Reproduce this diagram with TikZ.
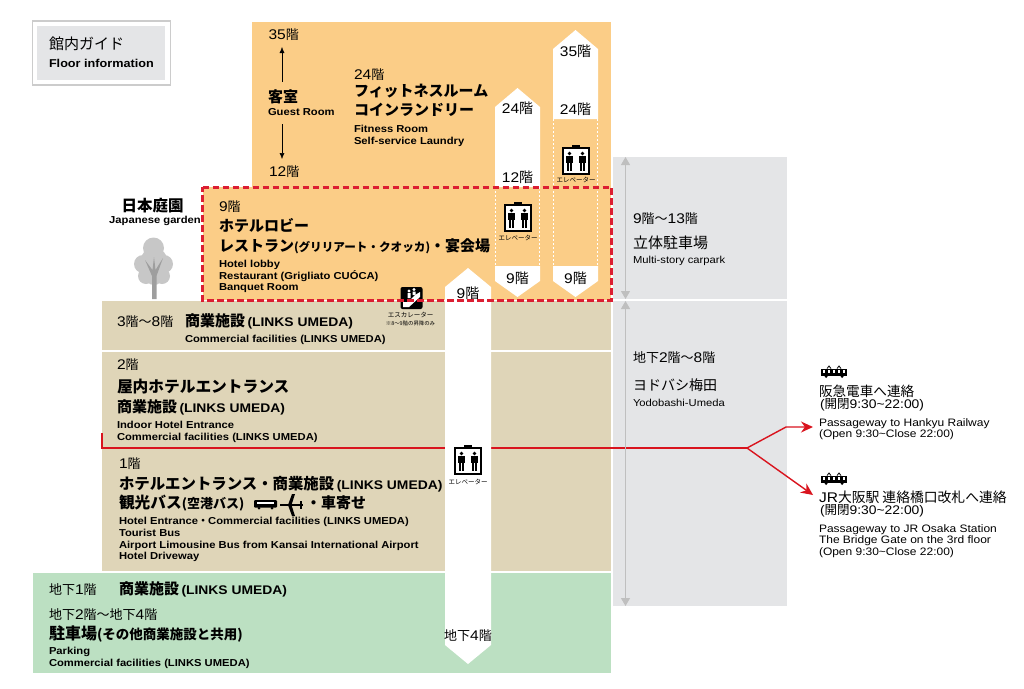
\documentclass[tikz,border=0pt]{standalone}
\usepackage{fontspec}
\setmainfont{Liberation Sans}
\newfontfamily\jp{Noto Sans CJK JP}
\newfontfamily\en{Liberation Sans}[FakeStretch=1.11]
\usetikzlibrary{arrows.meta}
\definecolor{roomcol}{HTML}{FBCD87}
\definecolor{shopcol}{HTML}{DFD5B8}
\definecolor{basecol}{HTML}{BCE0C2}
\definecolor{parkcol}{HTML}{E4E5E7}
\definecolor{linecol}{HTML}{DC1E32}
\definecolor{routecol}{HTML}{D9141E}
\newcommand{\sz}[1]{\fontsize{#1}{#1}\selectfont}
\newcommand{\dg}[1]{{\en\sz{14}#1}}
\newcommand{\links}{{\en\bfseries\sz{12.5}(LINKS UMEDA)}}
\newcommand{\hours}{{\sz{12.5}{\en(}開閉{\en 9:30\textasciitilde 22:00)}}}
\tikzset{
  txt/.style={anchor=west,inner sep=0pt,outer sep=0pt,text=black},
  mid/.style={inner sep=0pt,outer sep=0pt,text=black},
  floorno/.style={txt,font=\jp\sz{13}},
  floormid/.style={mid,font=\jp\sz{14}},
  head/.style={txt,font=\jp\bfseries\sz{15}},
  sub/.style={txt,font=\en\bfseries\sz{10.1},text height=8.3pt,text depth=0pt},
  thin/.style={txt,font=\en\sz{10.1},text height=8.3pt,text depth=0pt},
  far/.style={txt,font=\en\sz{10.8},text height=8.3pt,text depth=0pt},
  tiny/.style={mid,font=\jp\sz{6.5}},
  route/.style={draw=routecol,line width=1.4pt},
  liftpic/.pic={
    \path[fill=black] (-4,-16) rectangle (4,-13);
    \path[draw=black,fill=white,line width=2pt] (-13,-13) rectangle (13,13);
    \foreach \dx in {-6.5,6.5}{
      \path[fill=black] (\dx,-7.5) circle (1.9);
      \path[fill=black] (\dx-3.5,-5) rectangle (\dx+3.5,1.5);
      \path[fill=black] (\dx-2.2,1) rectangle (\dx-0.2,10);
      \path[fill=black] (\dx+0.2,1) rectangle (\dx+2.2,10);
    }
  },
  trainpic/.pic={
    \path[fill=black] (0,2.5) rectangle (26,9.5);
    \foreach \dx in {3,8,13,18,23}{\path[fill=white] (\dx-1.2,4) rectangle (\dx+1.2,6.5);}
    \path[draw=black,line width=0.8pt] (6,2.5)--(8,0)--(10,2.5) (16,2.5)--(18,0)--(20,2.5);
    \path[fill=black] (5,10.5) circle (1.5) (21,10.5) circle (1.5);
  }
}
\begin{document}
\begin{tikzpicture}[x=1pt,y=-1pt]
\useasboundingbox (0,0) rectangle (1024,688);
%guide box
\path[draw=black!20,fill=white,line width=1.5pt] (32.5,21.2) rectangle (170.3,85);
\path[fill=parkcol] (37,26) rectangle (165,80);
\node[txt,font=\jp\sz{15}] (guidejp) at (49,44) {館内ガイド};
\node[txt,font=\en\bfseries\sz{11.4}] (guideen) at (49,63) {Floor information};
%floors
\path[fill=roomcol] (252,22) rectangle (611,187);
\path[fill=roomcol] (203,187) rectangle (611,300);
\path[fill=shopcol] (102,301) rectangle (611,350);
\path[fill=shopcol] (102,352) rectangle (611,571);
\path[fill=basecol] (33,573) rectangle (611,673);
\path[fill=parkcol] (613,157) rectangle (787,298.5);
\path[fill=parkcol] (613,301) rectangle (787,606);
%route to the stations
\coordinate (routestart) at (102,433);
\coordinate (routecorner) at (102,448);
\coordinate (routefork) at (747,448);
\coordinate (hankyubend) at (786,427);
\coordinate (hankyuend) at (813,427);
\coordinate (jrend) at (813,495);
\path[route] (routestart)--(routecorner)--(routefork);
\path[route,-{Stealth[length=12pt,width=11pt]}] (routefork)--(hankyubend)--(hankyuend);
\path[route,-{Stealth[length=12pt,width=11pt]}] (routefork)--(jrend);
%lift shafts
\path[fill=white] (468,268)--(491,287)--(491,645)--(468,664)--(445,645)--(445,287)--cycle;
\path[fill=white] (517.5,88)--(540,107)--(540,187)--(495,187)--(495,107)--cycle;
\path[fill=white] (575.5,30)--(598,49)--(598,119)--(553,119)--(553,49)--cycle;
\path[fill=white] (495,266)--(540,266)--(540,281)--(517.5,297)--(495,281)--cycle;
\path[fill=white] (553,266)--(598,266)--(598,281)--(575.5,297)--(553,281)--cycle;
\path[draw=white,line width=1pt,dash pattern=on 2pt off 2pt] (495.5,187)--(495.5,266) (539.5,187)--(539.5,266);
\path[draw=white,line width=1pt,dash pattern=on 2pt off 2pt] (553.5,119)--(553.5,266) (597.5,119)--(597.5,266);
%escalator
\path[fill=black,rounded corners=2pt] (400.5,287) rectangle (422.5,309);
\path[fill=white] (403,307)--(409,307)--(420,297)--(420,292)--(415,295)--(408,302)--(403,302)--cycle;
\path[fill=white] (409,291) circle (1.6) (414,289.5) circle (1.6);
\path[fill=white] (407.5,293) rectangle (410.5,298) (412.5,291.5) rectangle (415.5,295);
\node[tiny] (esca) at (410.5,315) {エスカレーター};
\node[tiny,font=\jp\sz{5.4}] (escb) at (410.5,323) {※8〜9階の昇降のみ};
%lobby outline
\path[draw=linecol,line width=3pt,dash pattern=on 6.5pt off 3.5pt] (202.7,187)--(611.5,187)--(611.5,300.5)--(202.7,300.5)--cycle;
%grey arrows
\coordinate (parkup) at (625.5,157);
\coordinate (parkdown) at (625.5,299);
\coordinate (yodoup) at (625.5,301);
\coordinate (yododown) at (625.5,606);
\path[draw=black!25,line width=1pt,{Triangle[length=8pt,width=9pt]}-{Triangle[length=8pt,width=9pt]}] (parkup)--(parkdown);
\path[draw=black!25,line width=1pt,{Triangle[length=8pt,width=9pt]}-{Triangle[length=8pt,width=9pt]}] (yodoup)--(yododown);
%guest rooms
\node[floorno] (rooma) at (268.5,35) {\dg{35}階};
\node[head] (roomjp) at (268,97) {客室};
\node[sub] (roomen) at (268,111) {Guest Room};
\node[floorno] (roomb) at (269,172) {\dg{12}階};
\coordinate (roomtopa) at (282,82);
\coordinate (roomtopb) at (282,47);
\coordinate (roomlowa) at (282,124);
\coordinate (roomlowb) at (282,159);
\path[draw,line width=0.5pt,-{Latex[length=6pt,width=5pt]}] (roomtopa)--(roomtopb);
\path[draw,line width=0.5pt,-{Latex[length=6pt,width=5pt]}] (roomlowa)--(roomlowb);
%fitness
\node[floorno] (fitno) at (354,75) {\dg{24}階};
\node[head] (fitjp) at (354,91) {フィットネスルーム};
\node[head] (coinjp) at (354,110) {コインランドリー};
\node[sub] (fiten) at (354,128.5) {Fitness Room};
\node[sub] (coinen) at (354,140) {Self-service Laundry};
%shaft labels
\node[floormid] (lifta) at (575.5,51) {\dg{35}階};
\node[floormid] (liftb) at (575.5,109) {\dg{24}階};
\node[floormid] (liftc) at (517.5,108) {\dg{24}階};
\node[floormid] (liftd) at (517.5,177) {\dg{12}階};
\node[floormid] (lifte) at (517.5,278) {\dg{9}階};
\node[floormid] (liftf) at (575.5,278) {\dg{9}階};
\node[floormid] (liftg) at (468,293) {\dg{9}階};
\node[floormid,font=\jp\sz{13}] (lifth) at (468,636) {地下\dg{4}階};
\path (518,218) pic {liftpic};
\path (576,161) pic {liftpic};
\path (468,461) pic {liftpic};
\node[tiny] (tagone) at (518,238) {エレベーター};
\node[tiny] (tagtwo) at (576,180) {エレベーター};
\node[tiny] (tagthree) at (468,482) {エレベーター};
%garden
\node[mid,font=\jp\bfseries\sz{15.5}] (gardenjp) at (152.5,206) {日本庭園};
\node[mid,font=\en\bfseries\sz{10.1}] (gardenen) at (155,221) {Japanese garden};
\path[fill=black!22] (153.5,248) circle (10.5) (143,264) circle (9) (164,264) circle (9) (154,262) circle (14) (146,276) circle (8) (162,276) circle (8) (154,276) circle (9);
\path[fill=black!38] (152,299)--(152,276)--(145,260)--(152.5,270)--(154,257)--(155.5,270)--(163,258)--(156.5,276)--(156.5,299)--cycle;
%lobby
\node[floorno] (lobbyno) at (219,207) {\dg{9}階};
\node[head] (lobbyjp) at (219,226) {ホテルロビー};
\node[head] (restjp) at (219,246) {レストラン\sz{11.6}(グリリアート・クオッカ)\sz{15}・宴会場};
\node[sub] (lobbyen) at (219,263) {Hotel lobby};
\node[sub] (resten) at (219,275) {Restaurant (Grigliato CUÓCA)};
\node[sub] (banqen) at (219,286) {Banquet Room};
%floor 3-8
\node[floorno] (shopno) at (117,322) {\dg{3}階〜\dg{8}階};
\node[head] (shopjp) at (185,321) {商業施設\,\links};
\node[sub] (shopen) at (185,338) {Commercial facilities (LINKS UMEDA)};
%floor 2
\node[floorno] (twono) at (117,365) {\dg{2}階};
\node[head,font=\jp\bfseries\sz{15.7}] (twoa) at (117,387) {屋内ホテルエントランス};
\node[head] (twob) at (117,407) {商業施設\,\links};
\node[sub] (twoc) at (117,424) {Indoor Hotel Entrance};
\node[sub] (twod) at (117,436) {Commercial facilities (LINKS UMEDA)};
%floor 1
\node[floorno] (oneno) at (119,464) {\dg{1}階};
\node[head,font=\jp\bfseries\sz{15.4}] (onea) at (119,484) {ホテルエントランス・商業施設\,\links};
\node[head,font=\jp\bfseries\sz{15.7}] (oneb) at (119,503) {観光バス\sz{13}(空港バス)};
\path[fill=black,rounded corners=1pt] (254,500) rectangle (277,507.5);
\path[fill=white] (257,501.5) rectangle (274,504);
\path[fill=black] (259,508) circle (1.5) (272,508) circle (1.5);
\path[fill=black] (280,504)--(303,504)--(303,506)--(280,506)--cycle;
\path[fill=black] (292,494)--(295,494)--(291.5,505)--(295,516)--(292,516)--(288,505)--cycle;
\path[fill=black] (300,501)--(301.5,501)--(301.5,509)--(300,509)--cycle;
\node[head] (onec) at (306,503) {・車寄せ};
\node[sub] (oned) at (119,520) {Hotel Entrance{\jp ・}Commercial facilities (LINKS UMEDA)};
\node[sub] (onee) at (119,532) {Tourist Bus};
\node[sub] (onef) at (119,544) {Airport Limousine Bus from Kansai International Airport};
\node[sub] (oneg) at (119,555) {Hotel Driveway};
%basement
\node[floorno] (basea) at (49,590) {地下\dg{1}階};
\node[head] (baseb) at (119,589) {商業施設\,\links};
\node[floorno] (basec) at (49,615) {地下\dg{2}階〜地下\dg{4}階};
\node[head,font=\jp\bfseries\sz{16}] (based) at (49,634) {駐車場\sz{13.5}(その他商業施設と共用)};
\node[sub] (basee) at (49,650) {Parking};
\node[sub] (basef) at (49,662) {Commercial facilities (LINKS UMEDA)};
%car parks
\node[floorno] (parka) at (633,219) {\dg{9}階〜\dg{13}階};
\node[txt,font=\jp\sz{15}] (parkb) at (633,243) {立体駐車場};
\node[thin] (parkc) at (633,259) {Multi-story carpark};
\node[floorno] (yodoa) at (633,358) {地下\dg{2}階〜\dg{8}階};
\node[txt,font=\jp\sz{14}] (yodob) at (633,385) {ヨドバシ梅田};
\node[thin] (yodoc) at (633,402) {Yodobashi-Umeda};
%stations
\path (821,366) pic {trainpic};
\path (821,473) pic {trainpic};
\node[txt,font=\jp\sz{13.6}] (hana) at (819,391) {阪急電車へ連絡};
\node[txt,font=\jp] (hanb) at (820,405) {\hours};
\node[far] (hanc) at (819,422) {Passageway to Hankyu Railway};
\node[far] (hand) at (819,433) {(Open 9:30\textasciitilde Close 22:00)};
\node[txt,font=\jp\sz{13.8}] (jra) at (819,497) {{\en\sz{14}JR}大阪駅 連絡橋口改札へ連絡};
\node[txt,font=\jp] (jrb) at (820,511) {\hours};
\node[far] (jrc) at (819,528) {Passageway to JR Osaka Station};
\node[far] (jrd) at (819,539.5) {The Bridge Gate on the 3rd floor};
\node[far] (jre) at (819,551) {(Open 9:30\textasciitilde Close 22:00)};
\end{tikzpicture}
\end{document}
